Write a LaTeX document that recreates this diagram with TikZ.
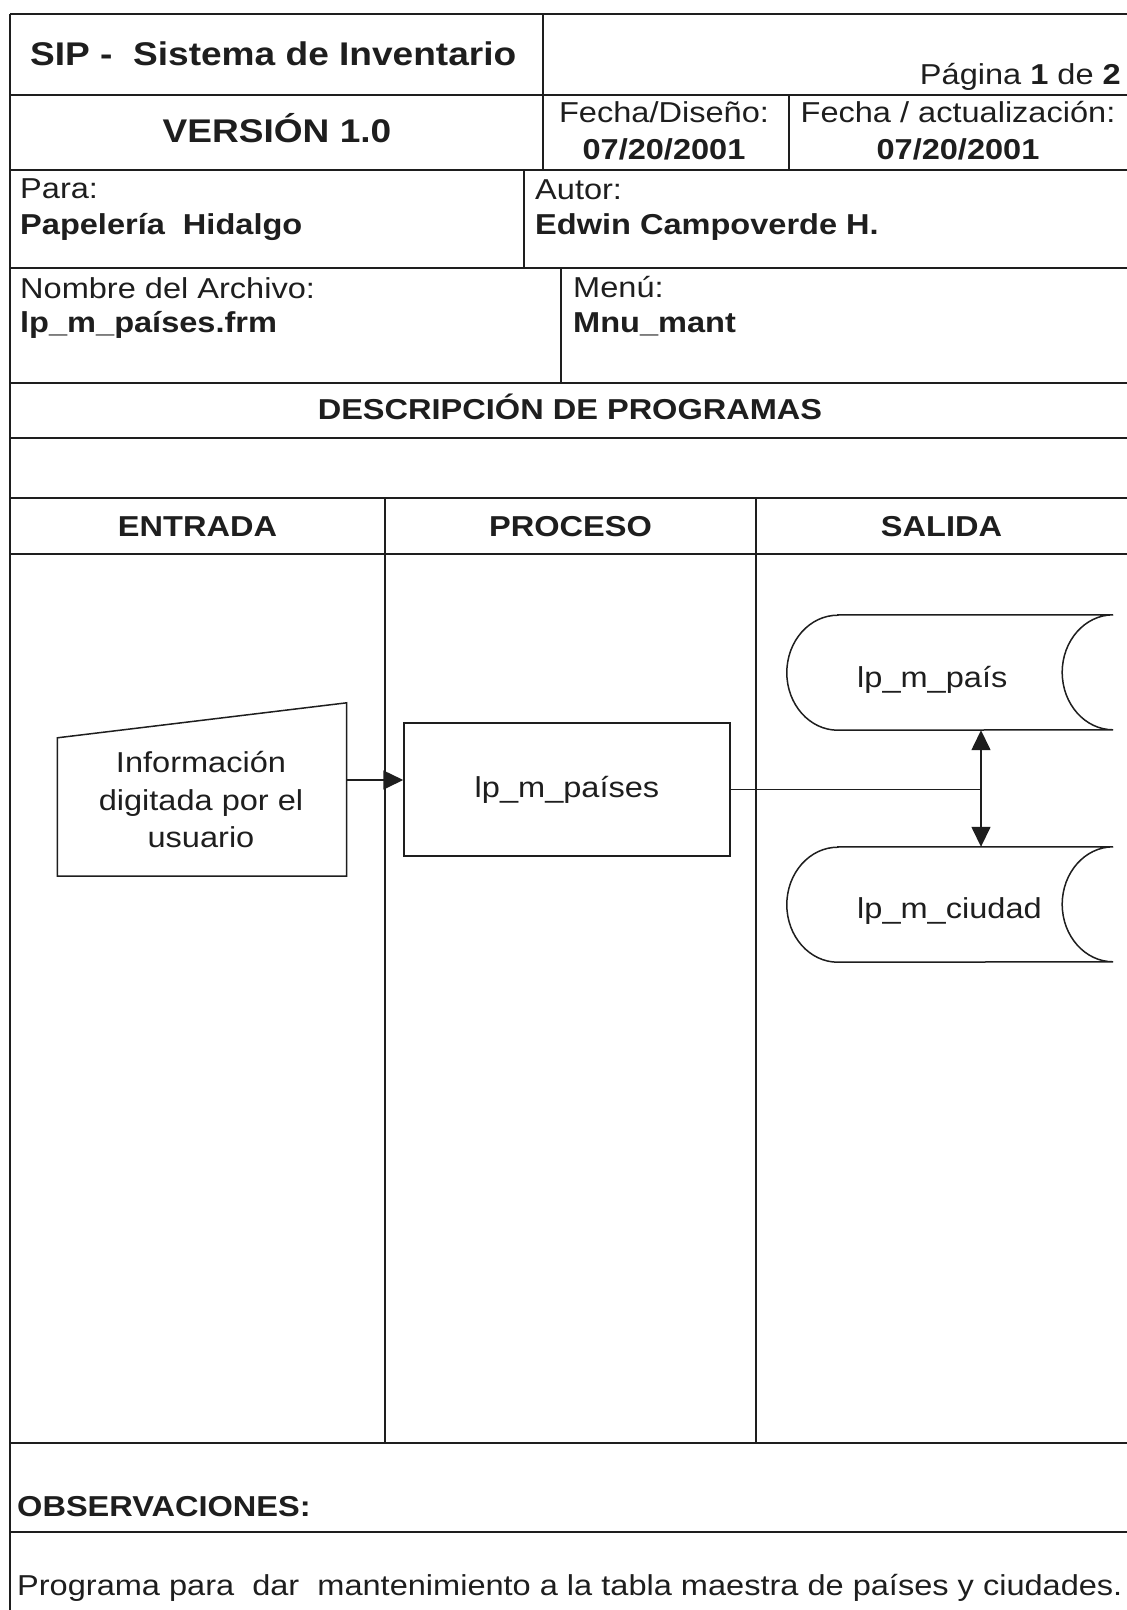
\documentclass[tikz,border=0pt]{standalone}
\usepackage{fontspec}
\setmainfont[FakeStretch=1.13]{Liberation Sans}
\usetikzlibrary{arrows.meta}
\definecolor{ink}{HTML}{1E1E1E}
\newcommand{\fsreg}{\fontsize{28.8}{37.5}\selectfont}
\newcommand{\fsbig}{\fontsize{32.8}{38}\selectfont}
\begin{document}
\begin{tikzpicture}[x=1pt,y=-1pt,
  hline/.style={draw=ink,line width=2pt},
  vline/.style={draw=ink,line width=1.3pt},
  txt/.style={inner sep=0pt,text=ink,font=\fsreg},
  btxt/.style={inner sep=0pt,text=ink,font=\fsreg\bfseries},
  ttl/.style={inner sep=0pt,text=ink,font=\fsbig\bfseries},
  shp/.style={draw=ink,line width=1.5pt},
  ghost/.style={draw=none,inner sep=0pt},
  procbox/.style={draw=ink,line width=1.5pt,inner sep=0pt,text=ink,font=\fsreg},
  arr/.style={draw=ink,line width=1.5pt,-{Triangle[length=20pt,width=19pt]}},
  darr/.style={draw=ink,line width=1.5pt,{Triangle[length=20pt,width=19pt]}-{Triangle[length=20pt,width=19pt]}}
]
\useasboundingbox (0,0) rectangle (1127,1610);
\fill[white] (0,0) rectangle (1127,1610);

% horizontal rules
\foreach \yy in {14,95,170,268,383,438,498,554,1443,1532}
  \draw[hline] (10,\yy) -- (1127,\yy);
% vertical rules
\draw[vline] (10,14) -- (10,1610);
\draw[vline] (543,14) -- (543,170);
\draw[vline] (789,95) -- (789,170);
\draw[vline] (524,170) -- (524,268);
\draw[vline] (561,268) -- (561,383);
\draw[vline] (385,498) -- (385,1443);
\draw[vline] (756,498) -- (756,1443);

% header texts
\node[ttl,anchor=base west] (sip) at (30,65) {SIP -\ \ Sistema de Inventario};
\node[txt,anchor=base east] (pag) at (1121,84) {Página \textbf{1} de \textbf{2}};
\node[ttl,anchor=base] (ver) at (277,142) {VERSIÓN 1.0};
\node[txt,anchor=base] (fd) at (664,122) {Fecha/Diseño:};
\node[btxt,anchor=base] (fdv) at (664,159) {07/20/2001};
\node[txt,anchor=base] (fa) at (958,122) {Fecha / actualización:};
\node[btxt,anchor=base] (fav) at (958,159) {07/20/2001};
\node[txt,anchor=base west] (para) at (20,198) {Para:};
\node[btxt,anchor=base west] (parav) at (20,234) {Papelería\ \ Hidalgo};
\node[txt,anchor=base west] (aut) at (535,199) {Autor:};
\node[btxt,anchor=base west] (autv) at (535,234) {Edwin Campoverde H.};
\node[txt,anchor=base west] (nom) at (20,298) {Nombre del Archivo:};
\node[btxt,anchor=base west] (nomv) at (20,332) {lp\_m\_países.frm};
\node[txt,anchor=base west] (men) at (573,297) {Menú:};
\node[btxt,anchor=base west] (menv) at (573,332) {Mnu\_mant};
\node[btxt,anchor=base] (desc) at (570,419) {DESCRIPCIÓN DE PROGRAMAS};
\node[btxt,anchor=base] (ent) at (197.5,536) {ENTRADA};
\node[btxt,anchor=base] (pro) at (570.5,536) {PROCESO};
\node[btxt,anchor=base] (sal) at (941.5,536) {SALIDA};
\node[btxt,anchor=base west] (obs) at (17,1516) {OBSERVACIONES:};
\node[txt,anchor=base west] (obsv) at (17,1595) {Programa para\ \ dar\ \ mantenimiento a la tabla maestra de países y ciudades.};

% diagram
\node[ghost,minimum width=289pt,minimum height=173pt] (inp) at (202,789.5) {};
\draw[shp] (inp.south west) -- (inp.south east) -- (inp.north east)
  -- ([yshift=-35pt]inp.north west) -- cycle;
\node[txt,align=center] (inptxt) at (201,800) {Información\\digitada por el\\usuario};

\node[procbox,minimum width=326pt,minimum height=133pt] (proc) at (567,789.5) {lp\_m\_países};

\node[ghost,minimum width=326pt,minimum height=115pt] (db1) at (950,672.5) {};
\node[ghost,minimum width=326pt,minimum height=115pt] (db2) at (950,904.5) {};
\foreach \d in {db1,db2}{
  \draw[shp] ([xshift=51pt]\d.north west) -- (\d.north east)
    arc[start angle=90,end angle=270,x radius=51pt,y radius=57.5pt]
    -- ([xshift=51pt]\d.south west)
    arc[start angle=270,end angle=90,x radius=51pt,y radius=57.5pt] -- cycle;
}
\node[txt,anchor=base west] (db1t) at (857,687) {lp\_m\_país};
\node[txt,anchor=base west] (db2t) at (857,918) {lp\_m\_ciudad};

\coordinate (j) at (981,789.5);
\draw[arr] (inp.east |- 0,780) -- (proc.west |- 0,780);
\draw[shp] (proc.east) -- (j);
\draw[darr] (db1.south -| j) -- (db2.north -| j);
\end{tikzpicture}
\end{document}
